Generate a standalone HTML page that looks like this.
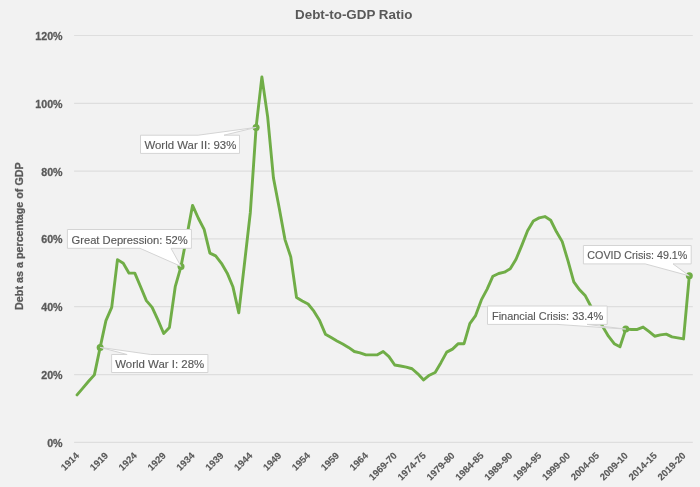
<!DOCTYPE html>
<html><head><meta charset="utf-8"><style>
html,body{margin:0;padding:0;background:#f2f2f2;}
svg{display:block;font-family:"Liberation Sans", sans-serif;will-change:transform;}
</style></head><body>
<svg width="700" height="487" viewBox="0 0 700 487">
<rect x="0" y="0" width="700" height="487" fill="#f2f2f2"/>
<line x1="74.10" y1="442.33" x2="692.80" y2="442.33" stroke="#dedede" stroke-width="1.2"/>
<line x1="74.10" y1="374.53" x2="692.80" y2="374.53" stroke="#dedede" stroke-width="1.2"/>
<line x1="74.10" y1="306.72" x2="692.80" y2="306.72" stroke="#dedede" stroke-width="1.2"/>
<line x1="74.10" y1="238.92" x2="692.80" y2="238.92" stroke="#dedede" stroke-width="1.2"/>
<line x1="74.10" y1="171.11" x2="692.80" y2="171.11" stroke="#dedede" stroke-width="1.2"/>
<line x1="74.10" y1="103.31" x2="692.80" y2="103.31" stroke="#dedede" stroke-width="1.2"/>
<line x1="74.10" y1="35.51" x2="692.80" y2="35.51" stroke="#dedede" stroke-width="1.2"/>
<text transform="translate(62.6,446.73) scale(0.93,1)" text-anchor="end" font-size="11.5" font-weight="bold" fill="#595959" stroke="#595959" stroke-width="0.28">0%</text>
<text transform="translate(62.6,378.93) scale(0.93,1)" text-anchor="end" font-size="11.5" font-weight="bold" fill="#595959" stroke="#595959" stroke-width="0.28">20%</text>
<text transform="translate(62.6,311.12) scale(0.93,1)" text-anchor="end" font-size="11.5" font-weight="bold" fill="#595959" stroke="#595959" stroke-width="0.28">40%</text>
<text transform="translate(62.6,243.32) scale(0.93,1)" text-anchor="end" font-size="11.5" font-weight="bold" fill="#595959" stroke="#595959" stroke-width="0.28">60%</text>
<text transform="translate(62.6,175.51) scale(0.93,1)" text-anchor="end" font-size="11.5" font-weight="bold" fill="#595959" stroke="#595959" stroke-width="0.28">80%</text>
<text transform="translate(62.6,107.71) scale(0.93,1)" text-anchor="end" font-size="11.5" font-weight="bold" fill="#595959" stroke="#595959" stroke-width="0.28">100%</text>
<text transform="translate(62.6,39.91) scale(0.93,1)" text-anchor="end" font-size="11.5" font-weight="bold" fill="#595959" stroke="#595959" stroke-width="0.28">120%</text>
<text transform="translate(79.85,456.20) rotate(-45)" text-anchor="end" font-size="9.6" font-weight="bold" fill="#595959" stroke="#595959" stroke-width="0.12">1914</text>
<text transform="translate(108.73,456.20) rotate(-45)" text-anchor="end" font-size="9.6" font-weight="bold" fill="#595959" stroke="#595959" stroke-width="0.12">1919</text>
<text transform="translate(137.61,456.20) rotate(-45)" text-anchor="end" font-size="9.6" font-weight="bold" fill="#595959" stroke="#595959" stroke-width="0.12">1924</text>
<text transform="translate(166.49,456.20) rotate(-45)" text-anchor="end" font-size="9.6" font-weight="bold" fill="#595959" stroke="#595959" stroke-width="0.12">1929</text>
<text transform="translate(195.37,456.20) rotate(-45)" text-anchor="end" font-size="9.6" font-weight="bold" fill="#595959" stroke="#595959" stroke-width="0.12">1934</text>
<text transform="translate(224.25,456.20) rotate(-45)" text-anchor="end" font-size="9.6" font-weight="bold" fill="#595959" stroke="#595959" stroke-width="0.12">1939</text>
<text transform="translate(253.13,456.20) rotate(-45)" text-anchor="end" font-size="9.6" font-weight="bold" fill="#595959" stroke="#595959" stroke-width="0.12">1944</text>
<text transform="translate(282.01,456.20) rotate(-45)" text-anchor="end" font-size="9.6" font-weight="bold" fill="#595959" stroke="#595959" stroke-width="0.12">1949</text>
<text transform="translate(310.89,456.20) rotate(-45)" text-anchor="end" font-size="9.6" font-weight="bold" fill="#595959" stroke="#595959" stroke-width="0.12">1954</text>
<text transform="translate(339.77,456.20) rotate(-45)" text-anchor="end" font-size="9.6" font-weight="bold" fill="#595959" stroke="#595959" stroke-width="0.12">1959</text>
<text transform="translate(368.65,456.20) rotate(-45)" text-anchor="end" font-size="9.6" font-weight="bold" fill="#595959" stroke="#595959" stroke-width="0.12">1964</text>
<text transform="translate(397.53,456.20) rotate(-45)" text-anchor="end" font-size="9.6" font-weight="bold" fill="#595959" stroke="#595959" stroke-width="0.12">1969-70</text>
<text transform="translate(426.41,456.20) rotate(-45)" text-anchor="end" font-size="9.6" font-weight="bold" fill="#595959" stroke="#595959" stroke-width="0.12">1974-75</text>
<text transform="translate(455.29,456.20) rotate(-45)" text-anchor="end" font-size="9.6" font-weight="bold" fill="#595959" stroke="#595959" stroke-width="0.12">1979-80</text>
<text transform="translate(484.17,456.20) rotate(-45)" text-anchor="end" font-size="9.6" font-weight="bold" fill="#595959" stroke="#595959" stroke-width="0.12">1984-85</text>
<text transform="translate(513.05,456.20) rotate(-45)" text-anchor="end" font-size="9.6" font-weight="bold" fill="#595959" stroke="#595959" stroke-width="0.12">1989-90</text>
<text transform="translate(541.93,456.20) rotate(-45)" text-anchor="end" font-size="9.6" font-weight="bold" fill="#595959" stroke="#595959" stroke-width="0.12">1994-95</text>
<text transform="translate(570.81,456.20) rotate(-45)" text-anchor="end" font-size="9.6" font-weight="bold" fill="#595959" stroke="#595959" stroke-width="0.12">1999-00</text>
<text transform="translate(599.69,456.20) rotate(-45)" text-anchor="end" font-size="9.6" font-weight="bold" fill="#595959" stroke="#595959" stroke-width="0.12">2004-05</text>
<text transform="translate(628.57,456.20) rotate(-45)" text-anchor="end" font-size="9.6" font-weight="bold" fill="#595959" stroke="#595959" stroke-width="0.12">2009-10</text>
<text transform="translate(657.45,456.20) rotate(-45)" text-anchor="end" font-size="9.6" font-weight="bold" fill="#595959" stroke="#595959" stroke-width="0.12">2014-15</text>
<text transform="translate(686.33,456.20) rotate(-45)" text-anchor="end" font-size="9.6" font-weight="bold" fill="#595959" stroke="#595959" stroke-width="0.12">2019-20</text>
<text x="353.7" y="19.3" text-anchor="middle" font-size="13.4" font-weight="bold" fill="#595959">Debt-to-GDP Ratio</text>
<text transform="translate(22.5,236.1) rotate(-90) scale(0.913,1)" text-anchor="middle" font-size="11.8" font-weight="bold" fill="#595959" stroke="#595959" stroke-width="0.28">Debt as a percentage of GDP</text>
<polyline points="77.05,394.87 82.83,388.09 88.60,381.31 94.38,374.87 100.15,347.40 105.93,320.62 111.71,307.40 117.48,259.60 123.26,263.33 129.03,273.16 134.81,273.16 140.59,286.72 146.36,300.62 152.14,307.40 157.91,319.94 163.69,333.50 169.47,327.40 175.24,286.72 181.02,266.38 186.79,236.21 192.57,205.36 198.35,218.24 204.12,229.43 209.90,253.16 215.67,255.87 221.45,263.33 227.23,273.16 233.00,287.06 238.78,312.82 244.55,262.99 250.33,212.47 256.11,127.38 261.88,76.87 267.66,116.87 273.43,177.89 279.21,208.07 284.99,239.60 290.76,256.89 296.54,297.57 302.31,300.96 308.09,304.01 313.87,311.13 319.64,320.62 325.42,334.18 331.19,337.57 336.97,340.96 342.75,344.01 348.52,347.40 354.30,351.47 360.07,352.83 365.85,354.86 371.63,354.86 377.40,354.86 383.18,351.47 388.95,356.56 394.73,365.03 400.51,366.05 406.28,367.07 412.06,368.76 417.83,373.85 423.61,379.95 429.39,375.20 435.16,372.49 440.94,362.66 446.71,352.15 452.49,349.10 458.27,343.68 464.04,343.68 469.82,323.67 475.59,315.54 481.37,299.94 487.15,289.09 492.92,276.21 498.70,273.50 504.47,272.14 510.25,268.75 516.03,259.26 521.80,245.36 527.58,230.78 533.35,220.95 539.13,217.90 544.91,216.54 550.68,220.27 556.46,231.80 562.23,241.63 568.01,260.95 573.79,281.97 579.56,289.77 585.34,295.87 591.11,306.72 596.89,316.89 602.67,326.39 608.44,336.22 614.22,343.68 619.99,346.73 625.77,329.10 631.55,329.44 637.32,329.44 643.10,327.06 648.87,331.47 654.65,336.22 660.43,334.86 666.20,334.18 671.98,336.89 677.75,337.91 683.53,338.93 689.31,275.87" fill="none" stroke="#70ad47" stroke-width="2.9" stroke-linejoin="round" stroke-linecap="round"/>
<circle cx="100.15" cy="347.40" r="3.5" fill="#70ad47"/>
<circle cx="181.02" cy="266.38" r="3.5" fill="#70ad47"/>
<circle cx="256.11" cy="127.38" r="3.5" fill="#70ad47"/>
<circle cx="625.77" cy="329.10" r="3.5" fill="#70ad47"/>
<circle cx="689.31" cy="275.87" r="3.5" fill="#70ad47"/>
<path d="M67.4,229.5 L191.4,229.5 L191.4,248.3 L171,248.3 L181.02,266.38 L140,248.3 L67.4,248.3 Z" fill="#ffffff" stroke="#d4d4d4" stroke-width="1"/>
<text transform="translate(129.65,243.60) scale(0.9655,1)" text-anchor="middle" font-size="11.6" fill="#595959" stroke="#595959" stroke-width="0.15">Great Depression: 52%</text>
<path d="M140.5,135.2 L198.2,135.2 L256.11,127.38 L224.0,135.2 L239.5,135.2 L239.5,153.4 L140.5,153.4 Z" fill="#ffffff" stroke="#d4d4d4" stroke-width="1"/>
<text transform="translate(190.40,148.70) scale(0.9829,1)" text-anchor="middle" font-size="11.6" fill="#595959" stroke="#595959" stroke-width="0.15">World War II: 93%</text>
<path d="M111.6,354.5 L127.1,354.5 L100.15,347.40 L150.7,354.5 L207.9,354.5 L207.9,372.5 L111.6,372.5 Z" fill="#ffffff" stroke="#d4d4d4" stroke-width="1"/>
<text transform="translate(159.75,367.80) scale(0.9868,1)" text-anchor="middle" font-size="11.6" fill="#595959" stroke="#595959" stroke-width="0.15">World War I: 28%</text>
<path d="M487.5,306.0 L607.2,306.0 L607.2,324.4 L587.0,324.4 L625.77,329.10 L557.0,324.4 L487.5,324.4 Z" fill="#ffffff" stroke="#d4d4d4" stroke-width="1"/>
<text transform="translate(547.55,319.70) scale(0.9433,1)" text-anchor="middle" font-size="11.6" fill="#595959" stroke="#595959" stroke-width="0.15">Financial Crisis: 33.4%</text>
<path d="M583.4,245.5 L691.2,245.5 L691.2,263.9 L673.0,263.9 L689.31,275.87 L645.2,263.9 L583.4,263.9 Z" fill="#ffffff" stroke="#d4d4d4" stroke-width="1"/>
<text transform="translate(637.35,259.20) scale(0.9250,1)" text-anchor="middle" font-size="11.6" fill="#595959" stroke="#595959" stroke-width="0.15">COVID Crisis: 49.1%</text>
</svg>
</body></html>
